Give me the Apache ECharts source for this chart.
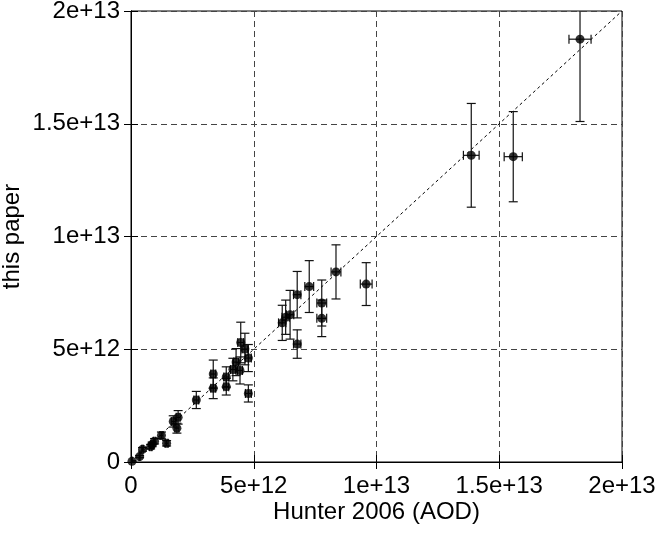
<!DOCTYPE html>
<html>
<head>
<meta charset="utf-8">
<script src="https://cdn.jsdelivr.net/npm/echarts@6/dist/echarts.min.js"></script>
<style>
html,body{margin:0;padding:0;background:#fff;}
#chart{width:665px;height:541px;}
</style>
</head>
<body>
<div id="chart"></div>
<script>
// Hunter 2006 (AOD) values
const xValues = [0.04e12, 0.35e12, 0.47e12, 0.80e12, 0.86e12, 0.96e12, 1.24e12, 1.45e12, 1.72e12, 1.92e12, 1.87e12,
  2.66e12, 3.35e12, 3.35e12, 3.88e12, 3.88e12, 4.15e12, 4.28e12, 4.44e12, 4.47e12, 4.64e12, 4.78e12, 4.78e12,
  6.16e12, 6.30e12, 6.48e12, 6.77e12, 6.77e12, 7.26e12, 7.77e12, 7.77e12, 8.35e12, 9.58e12,
  13.86e12, 15.57e12, 18.29e12];
// this paper values
const yValues = [0.03e12, 0.24e12, 0.56e12, 0.68e12, 0.78e12, 0.92e12, 1.18e12, 0.83e12, 1.80e12, 1.98e12, 1.50e12,
  2.75e12, 3.27e12, 3.90e12, 3.34e12, 3.77e12, 4.10e12, 4.43e12, 4.06e12, 5.30e12, 5.01e12, 4.61e12, 3.04e12,
  6.17e12, 6.42e12, 6.53e12, 7.42e12, 5.23e12, 7.78e12, 7.05e12, 6.37e12, 8.43e12, 7.89e12,
  13.60e12, 13.54e12, 18.75e12];
// x errors
const xErrors = [0.01e12, 0.02e12, 0.03e12, 0.05e12, 0.05e12, 0.05e12, 0.06e12, 0.06e12, 0.08e12, 0.08e12, 0.08e12,
  0.10e12, 0.10e12, 0.10e12, 0.10e12, 0.10e12, 0.10e12, 0.10e12, 0.10e12, 0.12e12, 0.12e12, 0.12e12, 0.12e12,
  0.15e12, 0.15e12, 0.15e12, 0.15e12, 0.15e12, 0.18e12, 0.20e12, 0.20e12, 0.20e12, 0.24e12,
  0.32e12, 0.37e12, 0.45e12];
// y errors
const yErrors = [0.03e12, 0.05e12, 0.08e12, 0.10e12, 0.10e12, 0.12e12, 0.15e12, 0.12e12, 0.25e12, 0.30e12, 0.22e12,
  0.38e12, 0.46e12, 0.62e12, 0.37e12, 0.45e12, 0.50e12, 0.60e12, 0.60e12, 0.90e12, 0.70e12, 0.60e12, 0.38e12,
  0.78e12, 0.76e12, 1.08e12, 1.03e12, 0.63e12, 1.15e12, 1.02e12, 0.81e12, 1.20e12, 0.95e12,
  2.30e12, 2.00e12, 3.65e12];
// reference line y = x
const refLine = [[0, 0], [2e13, 2e13]];
const tickLabels = {0: '0', 5e12: '5e+12', 1e13: '1e+13', 1.5e13: '1.5e+13', 2e13: '2e+13'};

const points = xValues.map((x, i) => [x, yValues[i]]);
const errData = xValues.map((x, i) => [x, yValues[i], xErrors[i], yErrors[i]]);

const FONT = 'Liberation Sans, Arial, Helvetica, sans-serif';
const FS = 24;
const fmt = v => (tickLabels[v] !== undefined ? tickLabels[v] : String(v));

const chart = echarts.init(document.getElementById('chart'), null, {renderer: 'canvas'});
const axisCommon = {
  type: 'value', min: 0, max: 2e13, interval: 5e12,
  nameMoveOverlap: false,
  axisLine: {show: true, lineStyle: {color: '#000', width: 1}},
  axisTick: {show: true, inside: true, length: 7, lineStyle: {color: '#000'}},
  splitLine: {show: true, lineStyle: {color: '#444', type: [6, 4], width: 1}},
  nameTextStyle: {fontFamily: FONT, fontSize: FS, color: '#000'}
};
chart.setOption({
  animation: false,
  backgroundColor: '#fff',
  grid: {left: 131, right: 43, top: 11, bottom: 79, show: true, borderColor: '#000', borderWidth: 1,
         containLabel: false, outerBoundsMode: 'none'},
  xAxis: [Object.assign({}, axisCommon, {
    position: 'bottom',
    name: 'Hunter 2006 (AOD)', nameLocation: 'middle', nameGap: 38,
    axisLabel: {formatter: fmt, fontFamily: FONT, fontSize: FS, color: '#000', margin: 12}
  }), Object.assign({}, axisCommon, {
    position: 'top', axisLabel: {show: false}, splitLine: {show: false}
  })],
  yAxis: [Object.assign({}, axisCommon, {
    position: 'left',
    name: 'this paper', nameLocation: 'middle', nameGap: 107,
    axisLabel: {formatter: fmt, fontFamily: FONT, fontSize: FS, color: '#000', margin: 11}
  }), Object.assign({}, axisCommon, {
    position: 'right', axisLabel: {show: false}, splitLine: {show: false}
  })],
  series: [
    {
      type: 'line', data: refLine, symbol: 'none', silent: true, z: 1,
      lineStyle: {color: '#000', width: 1, type: [3, 3]}
    },
    {
      type: 'custom', data: errData, clip: true, z: 2,
      renderItem: function (params, api) {
        const x = api.value(0), y = api.value(1), xe = api.value(2), ye = api.value(3);
        const top = api.coord([x, y + ye]);
        const bot = api.coord([x, y - ye]);
        const l = api.coord([x - xe, y]);
        const r = api.coord([x + xe, y]);
        const cw = 4.5, ch = 4.5;
        const style = {stroke: '#111', lineWidth: 1.2, fill: null};
        const line = (x1, y1, x2, y2) => ({type: 'line', shape: {x1, y1, x2, y2}, style});
        return {
          type: 'group',
          children: [
            line(top[0], top[1], bot[0], bot[1]),
            line(top[0] - cw, top[1], top[0] + cw, top[1]),
            line(bot[0] - cw, bot[1], bot[0] + cw, bot[1]),
            line(l[0], l[1], r[0], r[1]),
            line(l[0], l[1] - ch, l[0], l[1] + ch),
            line(r[0], r[1] - ch, r[0], r[1] + ch)
          ]
        };
      }
    },
    {
      type: 'scatter', data: points, symbol: 'circle', symbolSize: 9, z: 3,
      itemStyle: {color: '#000'}
    }
  ]
});
</script>
</body>
</html>
